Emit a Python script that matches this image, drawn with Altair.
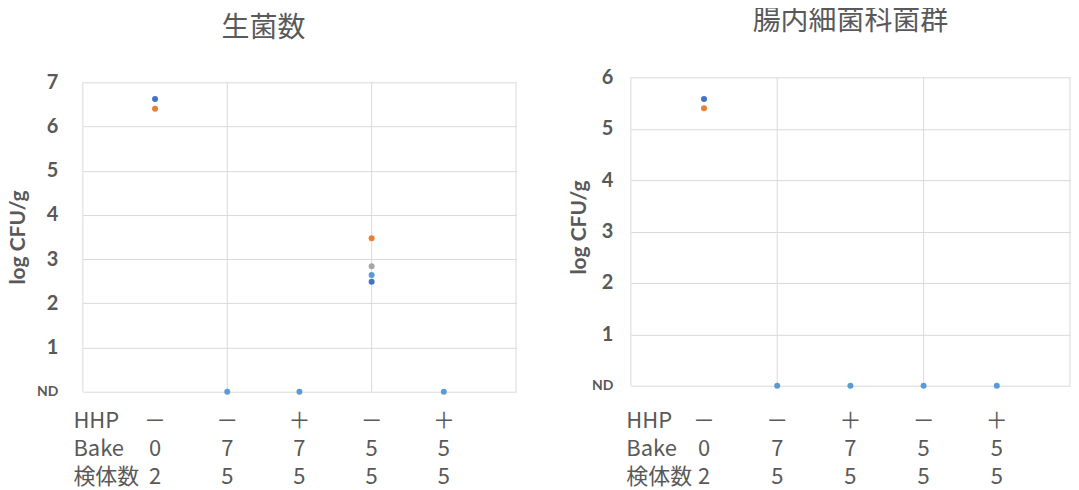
import altair as alt
import pandas as pd

# ---- data ----
groups = [1, 2, 3, 4, 5]
hhp = ["－", "－", "＋", "－", "＋"]
bake = ["0", "7", "7", "5", "5"]
n_samples = ["2", "5", "5", "5", "5"]
row_names = ["HHP", "Bake", "検体数"]

series_names = ["s1", "s2", "s3", "s5"]
series_colors = ["#4472C4", "#ED7D31", "#A5A5A5", "#5B9BD5"]

# 生菌数 (log CFU/g, 0 = ND)
total_s1 = [6.62, None, None, 2.49, None]
total_s2 = [6.40, None, None, 3.47, None]
total_s3 = [None, None, None, 2.84, None]
total_s5 = [None, 0.0, 0.0, 2.64, 0.0]

# 腸内細菌科菌群 (log CFU/g, 0 = ND)
entero_s1 = [5.58, None, None, None, None]
entero_s2 = [5.40, None, None, None, None]
entero_s3 = [None, None, None, None, None]
entero_s5 = [None, 0.0, 0.0, 0.0, 0.0]

grid_x = [0, 2, 4, 6]

GRAY = "#595959"
GRID = "#D9D9D9"
NUM_FONT = "Lato"
JP_FONT = "Noto Sans CJK JP"


def points_df(series_lists):
    rows = []
    for name, vals in zip(series_names, series_lists):
        for g, v in zip(groups, vals):
            if v is not None:
                rows.append({"g": g, "v": v, "series": name})
    return pd.DataFrame(rows)


def table_df():
    rows = []
    for row, vals in zip(row_names, [hhp, bake, n_samples]):
        for g, t in zip(groups, vals):
            rows.append({"g": g, "row": row, "txt": t})
    return pd.DataFrame(rows)


def panel(title, title_dx, title_offset, series_lists, ymax, ydomain, width,
          label_pad, title_x, title_y, row_pad):
    xscale = alt.Scale(domain=[0, 6], nice=False, zero=False)
    yscale = alt.Scale(domain=ydomain, nice=False, zero=False)
    yaxis = alt.Axis(
        values=list(range(0, ymax + 1)),
        title="log CFU/g",
        titleFont=NUM_FONT, titleFontSize=21, titleFontWeight="bold",
        titleColor=GRAY, titleAngle=270, titleX=title_x, titleY=title_y,
        titleBaseline="bottom", titleAlign="center",
        labelExpr="datum.value == 0 ? 'ND' : datum.label",
        labelFont=NUM_FONT, labelFontWeight="bold", labelColor=GRAY,
        labelFontSize={"condition": {"test": "datum.value == 0", "value": 14}, "value": 20},
        labelPadding=label_pad, ticks=False, tickSize=0, domain=False,
        grid=True, gridColor=GRID, gridWidth=1,
    )
    gdf = pd.DataFrame({"gx": grid_x, "y0": [0] * len(grid_x), "y1": [ymax] * len(grid_x)})
    rules = alt.Chart(gdf).mark_rule(color=GRID, strokeWidth=1).encode(
        x=alt.X("gx:Q", scale=xscale, axis=None),
        y=alt.Y("y0:Q", scale=yscale, axis=yaxis),
        y2="y1:Q",
    )
    pts = alt.Chart(points_df(series_lists)).mark_circle(size=36, opacity=1).encode(
        x=alt.X("g:Q", scale=xscale, axis=None),
        y=alt.Y("v:Q", scale=yscale, axis=yaxis),
        color=alt.Color("series:N", scale=alt.Scale(domain=series_names, range=series_colors),
                        legend=None),
    )
    plot = alt.layer(rules, pts).properties(
        width=width, height=315,
        title=alt.TitleParams(title, font=JP_FONT, fontSize=28, fontWeight="normal",
                              color=GRAY, anchor="middle", frame="group", dx=title_dx,
                              offset=title_offset, baseline="middle"),
    )
    table = alt.Chart(table_df()).mark_text(
        font=JP_FONT, fontSize=22, color=GRAY, baseline="middle", align="center"
    ).encode(
        x=alt.X("g:Q", scale=xscale, axis=None),
        y=alt.Y("row:N", scale=alt.Scale(type="point", domain=row_names, padding=0.5),
                axis=alt.Axis(title=None, labelAlign="left", labelPadding=row_pad,
                              ticks=False, tickSize=0, domain=False, grid=False,
                              labelFont=JP_FONT, labelFontSize=22, labelColor=GRAY,
                              labelBaseline="middle")),
        text="txt:N",
    ).properties(width=width, height=84)
    return plot, table


plot_l, table_l = panel("生菌数", -36, 15, [total_s1, total_s2, total_s3, total_s5], 7,
                        [0, 7.113], 434, 25, -54, 160, 10)
plot_r, table_r = panel("腸内細菌科菌群", 0, 17, [entero_s1, entero_s2, entero_s3, entero_s5], 6,
                        [-0.1165, 6], 440, 18, -41, 150, 5)

chart = alt.concat(
    plot_l, plot_r, table_l, table_r,
    columns=2, spacing={"row": 15, "column": 115}, bounds="flush",
).properties(
    padding={"left": 0, "top": 0, "right": 0, "bottom": 0}
).configure(background="white", view=alt.ViewConfig(stroke=None))

chart.save("out.html", embed_options={"renderer": "svg", "actions": False})
